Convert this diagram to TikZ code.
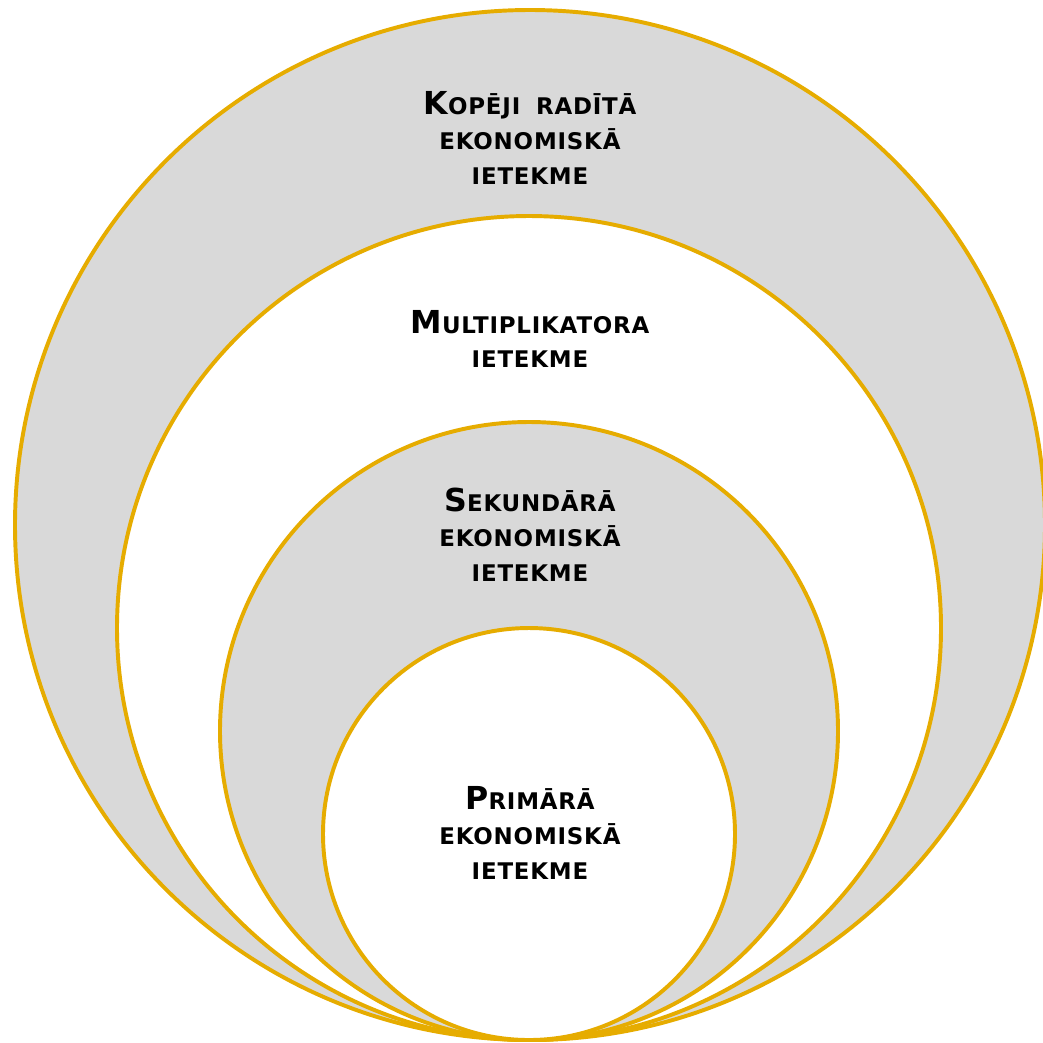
\documentclass[tikz,border=0pt]{standalone}
\usepackage{fontspec}
\setmainfont{DejaVu Sans}
\newfontfamily\labelfont[LetterSpace=3.5,WordSpace=1.8]{DejaVu Sans}
\usepackage{xcolor}
\definecolor{ring}{HTML}{E6AC00}
\definecolor{shade}{HTML}{D9D9D9}
\newcommand{\firstcap}[1]{{\fontsize{22.5}{24.8}\selectfont #1}}
\tikzset{
  zone/.style={draw=ring, line width=2.8pt},
  label/.style={align=center, font=\labelfont\bfseries\fontsize{16.3}{24.8}\selectfont, inner sep=0pt}
}

\begin{document}
\begin{tikzpicture}[x=0.025cm,y=-0.025cm]
  \useasboundingbox (0,0) rectangle (1043,1042);

  \filldraw[zone, fill=shade] (530,525) circle[radius=515];
  \filldraw[zone, fill=white] (529,628) circle[radius=412];
  \filldraw[zone, fill=shade] (529,731) circle[radius=309];
  \filldraw[zone, fill=white] (529,834) circle[radius=206];

  \node[label] (total) at (530,138) {\firstcap{K}OPĒJI RADĪTĀ\\EKONOMISKĀ\\IETEKME};
  \node[label] (multi) at (530,339) {\firstcap{M}ULTIPLIKATORA\\IETEKME};
  \node[label] (second) at (530,535) {\firstcap{S}EKUNDĀRĀ\\EKONOMISKĀ\\IETEKME};
  \node[label] (prime) at (530,833) {\firstcap{P}RIMĀRĀ\\EKONOMISKĀ\\IETEKME};

\end{tikzpicture}
\end{document}
